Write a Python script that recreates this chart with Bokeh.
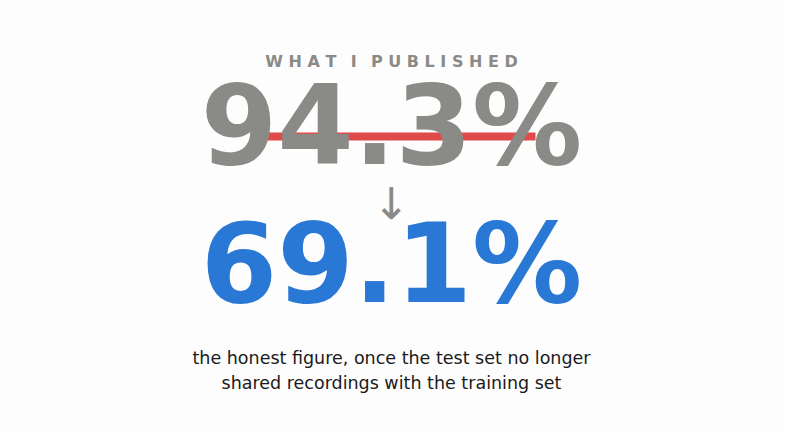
from bokeh.plotting import figure
from bokeh.models import Range1d
from bokeh.core.properties import value
from bokeh.embed import file_html
from bokeh.resources import INLINE

# ---- data ----
kicker = ["WHAT I PUBLISHED"]
published = ["94.3%"]
honest = ["69.1%"]
arrow = ["\u2193"]
caption = ["the honest figure, once the test set no longer",
           "shared recordings with the training set"]

W, H = 784, 432
BG = "#fdfdfd"
GRAY = "#8a8a86"
BLUE = "#2a78d6"
RED = "#e04a4a"
FONT = "DejaVu Sans"

p = figure(width=W, height=H, output_backend="svg", toolbar_location=None,
           x_range=Range1d(0, W), y_range=Range1d(0, H),
           min_border=0, background_fill_color=BG, border_fill_color=BG,
           outline_line_color=None)
p.axis.visible = False
p.grid.visible = False

def Y(win_y):
    return H + 8 - win_y

cx = 391

# letter-spaced kicker (non-collapsing spaces keep the gaps)
NB = "\u00a0"
word_gap = NB + NB + "\u2009"
spaced = word_gap.join(NB.join(w) for w in kicker[0].split(" "))
p.text(x=[cx], y=[Y(69.3)], text=[spaced], text_font=value(FONT),
       text_font_style="bold", text_font_size="16px", text_color=GRAY,
       text_align="center", text_baseline="middle")

# strike line (behind the number)
p.segment(x0=[258 - 8], y0=[Y(144)], x1=[543 - 8], y1=[Y(144)],
          line_color=RED, line_width=8)

p.text(x=[cx], y=[Y(133.5)], text=published, text_font=value(FONT),
       text_font_style="bold", text_font_size="110px", text_color=GRAY,
       text_align="center", text_baseline="middle")

p.text(x=[cx], y=[Y(210.5)], text=arrow, text_font=value(FONT),
       text_font_size="44px", text_color=GRAY,
       text_align="center", text_baseline="middle")

p.text(x=[cx], y=[Y(271)], text=honest, text_font=value(FONT),
       text_font_style="bold", text_font_size="110px", text_color=BLUE,
       text_align="center", text_baseline="middle")

p.text(x=[cx, cx], y=[Y(365), Y(390)], text=caption, text_font=value(FONT),
       text_font_size="17.5px", text_color="#1a1a1a",
       text_align="center", text_baseline="middle")

open("out.html", "w").write(file_html(p, INLINE))
